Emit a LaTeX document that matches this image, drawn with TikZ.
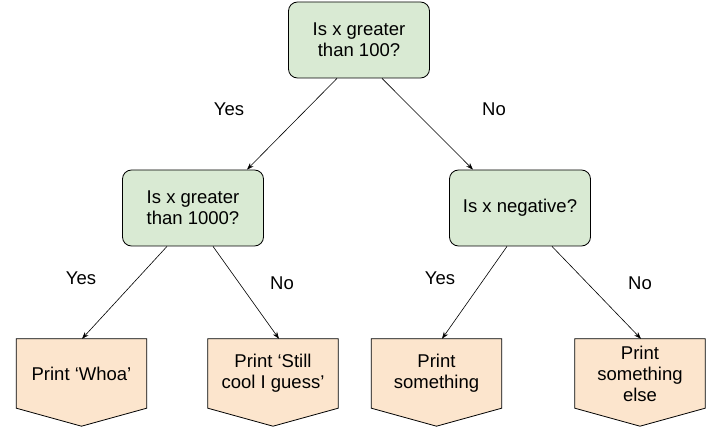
\documentclass[tikz,border=0pt]{standalone}
\usepackage{fontspec}
\setmainfont{Liberation Sans}
\usetikzlibrary{arrows.meta, backgrounds}
\definecolor{askgreen}{HTML}{D9EAD3}
\definecolor{leaforange}{HTML}{FCE5CD}
\tikzset {
    x=1pt, y=-1pt,
    every node/.style={font=\fontsize{18.5}{21}\selectfont, align=center, inner sep=0pt},
    ask/.style={draw, line width=0.8pt, fill=askgreen, rounded corners=9pt, minimum width=141pt, minimum height=76pt},
    leaf/.style={minimum width=130pt, minimum height=69pt},
    leafline/.style={draw, line width=0.8pt, fill=leaforange, line join=miter},
    arr/.style={-{Stealth[length=7pt, width=5pt]}, line width=0.6pt}
}

\begin{document}
\begin{tikzpicture}
    \useasboundingbox (0,0) rectangle (716,441);

    \node[ask] (q0) at (359,40) {Is x greater\\than 100?};
    \node[ask] (q1) at (193,208) {Is x greater\\than 1000?};
    \node[ask] (q2) at (520,208) {Is x negative?};

    \node[leaf] (p1) at (81.5,373.5) {Print `Whoa'};
    \node[leaf] (p2) at (273,373.5) {Print `Still\\cool I guess'};
    \node[leaf] (p3) at (436.5,373.5) {Print\\something};
    \node[leaf] (p4) at (640,373.5) {Print\\something\\else};

    \begin{pgfonlayer}{background}
        \foreach \n in {p1,p2,p3,p4}
            \path[leafline] (\n.north west) -- (\n.north east) -- (\n.south east)
                -- ([yshift=-18pt]\n.south) -- (\n.south west) -- cycle;
    \end{pgfonlayer}

    \node (y0) at (229,109) {Yes};
    \node (n0) at (494,109) {No};
    \node (y1) at (81,278) {Yes};
    \node (n1) at (282,283) {No};
    \node (y2) at (440,278) {Yes};
    \node (n2) at (640,283) {No};

    \draw[arr] ([xshift=-22pt]q0.south) -- ([xshift=54pt]q1.north);
    \draw[arr] ([xshift=23pt]q0.south) -- ([xshift=-47pt]q2.north);
    \draw[arr] ([xshift=-26pt]q1.south) -- ([xshift=0.5pt]p1.north);
    \draw[arr] ([xshift=20pt]q1.south) -- ([xshift=6pt]p2.north);
    \draw[arr] ([xshift=-13pt]q2.south) -- ([xshift=5.5pt]p3.north);
    \draw[arr] ([xshift=32pt]q2.south) -- ([xshift=1pt]p4.north);
\end{tikzpicture}
\end{document}
